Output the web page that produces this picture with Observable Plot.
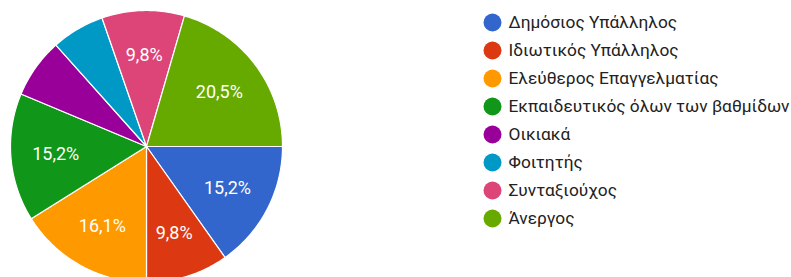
<!DOCTYPE html>
<html>
<head>
<meta charset="utf-8">
<script src="https://cdn.jsdelivr.net/npm/d3@7"></script>
<script src="https://cdn.jsdelivr.net/npm/@observablehq/plot@0.6"></script>
<style>
  html, body { margin: 0; padding: 0; background: #fff; overflow: hidden; }
  #wrap { position: relative; width: 791px; height: 277px; font-family: Roboto, "Noto Sans", sans-serif; }
  #pie { position: absolute; left: 0; top: 0; }
  #legend { position: absolute; left: 440px; top: 0; }
</style>
</head>
<body>
<div id="wrap"><div id="pie"></div><div id="legend"></div></div>
<script>
const categories = [
  "Δημόσιος Υπάλληλος",
  "Ιδιωτικός Υπάλληλος",
  "Ελεύθερος Επαγγελματίας",
  "Εκπαιδευτικός όλων των βαθμίδων",
  "Οικιακά",
  "Φοιτητής",
  "Συνταξιούχος",
  "Άνεργος"
];
const percents = [15.2, 9.8, 16.1, 15.2, 7.1, 6.3, 9.8, 20.5];
const colors = ["#3366cc", "#dc3912", "#ff9900", "#109618", "#990099", "#0099c6", "#dd4477", "#66aa00"];

const data = categories.map((c, i) => ({cat: c, value: percents[i]}));
const arcs = d3.pie().sort(null).value(d => d.value)
  .startAngle(Math.PI / 2).endAngle(Math.PI / 2 + 2 * Math.PI)(data);

// polygon vertices per slice (unit circle, y up)
const poly = [];
for (const a of arcs) {
  poly.push({cat: a.data.cat, x: 0, y: 0});
  const n = Math.max(2, Math.ceil((a.endAngle - a.startAngle) / (Math.PI / 180)));
  for (let k = 0; k <= n; k++) {
    const t = a.startAngle + (a.endAngle - a.startAngle) * k / n;
    poly.push({cat: a.data.cat, x: Math.sin(t), y: Math.cos(t)});
  }
}
const labels = arcs.filter(a => a.data.value >= 8).map(a => {
  const m = (a.startAngle + a.endAngle) / 2;
  return {x: 0.67 * Math.sin(m), y: 0.67 * Math.cos(m),
          text: a.data.value.toFixed(1).replace(".", ",") + "%"};
});

const colorScale = {domain: categories, range: colors};

const pie = Plot.plot({
  width: 300, height: 277,
  margin: 0,
  x: {domain: [-1, 1], range: [10, 282], axis: null},
  y: {domain: [-1, 1], range: [282, 10], axis: null},
  color: colorScale,
  style: {fontFamily: "Roboto, sans-serif", overflow: "hidden"},
  marks: [
    Plot.line(poly, {x: "x", y: "y", z: "cat", fill: "cat", stroke: "white", strokeWidth: 1.2, curve: "linear-closed"}),
    Plot.text(labels, {x: "x", y: "y", text: "text", fill: "white", fontSize: 18})
  ]
});
document.getElementById("pie").appendChild(pie);

const legend = Plot.plot({
  width: 351, height: 277,
  margin: 0,
  y: {type: "point", domain: categories, range: [19, 220], padding: 0, axis: null},
  color: colorScale,
  style: {fontFamily: "Roboto, sans-serif"},
  marks: [
    Plot.dot(categories, {y: d => d, fill: d => d, r: 9, frameAnchor: "left", dx: 52}),
    Plot.text(categories, {y: d => d, text: d => d, frameAnchor: "left", dx: 68, textAnchor: "start", fontSize: 17.3, fill: "#222"})
  ]
});
document.getElementById("legend").appendChild(legend);
</script>
</body>
</html>
